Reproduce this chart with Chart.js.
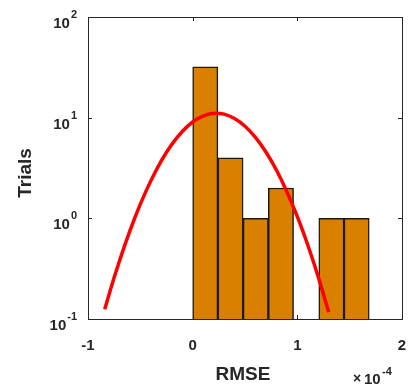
<!DOCTYPE html>
<html>
<head>
<meta charset="utf-8">
<script src="https://cdn.jsdelivr.net/npm/chart.js@4/dist/chart.umd.min.js"></script>
<style>
  html, body { margin: 0; padding: 0; background: #fff; }
  #wrap { width: 414px; height: 391px; position: relative; }
</style>
</head>
<body>
<div id="wrap"><canvas id="myChart"></canvas></div>
<script>
// histogram bins (x in units of 1e-4), bin width ~0.241
const binCenters = [0.1205, 0.3615, 0.6025, 0.8435, 1.3255, 1.5665];
const binCounts = [32, 4, 1, 2, 1, 1];

// fitted normal curve, sampled
const fitX = [-0.84, -0.75, -0.65, -0.55, -0.45, -0.35, -0.25, -0.15, -0.05, 0.05, 0.15, 0.226,
              0.30, 0.40, 0.50, 0.60, 0.70, 0.80, 0.90, 1.00, 1.10, 1.20, 1.30];
const fitY = [0.125, 0.258, 0.536, 1.03, 1.82, 2.99, 4.53, 6.34, 8.20, 9.80, 10.82, 11.07,
              10.83, 9.82, 8.23, 6.37, 4.56, 3.02, 1.84, 1.04, 0.544, 0.262, 0.117];

const xTicks = [-1, 0, 1, 2];
const yTicks = [0.1, 1, 10, 100];
const yExp = ['-1', '0', '1', '2'];

const textColor = '#262626';
const font = 'bold 15px "Liberation Sans", Arial, sans-serif';
const supFont = 'bold 11px "Liberation Sans", Arial, sans-serif';
const labelFont = 'bold 19px "Liberation Sans", Arial, sans-serif';

// box, tick marks and tick labels drawn on top of the plot area
const axesBox = {
    id: 'axesBox',
    afterDraw(chart) {
        const ctx = chart.ctx;
        const a = chart.chartArea;
        const xs = chart.scales.x, ys = chart.scales.y;
        ctx.save();
        ctx.strokeStyle = '#262626';
        ctx.lineWidth = 1;
        ctx.strokeRect(Math.round(a.left) + 0.5, Math.round(a.top) + 0.5,
                       Math.round(a.right - a.left), Math.round(a.bottom - a.top));

        ctx.beginPath();
        xTicks.forEach(t => {
            const px = Math.round(xs.getPixelForValue(t)) + 0.5;
            ctx.moveTo(px, a.bottom); ctx.lineTo(px, a.bottom - 4);
            ctx.moveTo(px, a.top); ctx.lineTo(px, a.top + 4);
        });
        yTicks.forEach(t => {
            const py = Math.round(ys.getPixelForValue(t)) + 0.5;
            ctx.moveTo(a.left, py); ctx.lineTo(a.left + 4, py);
            ctx.moveTo(a.right, py); ctx.lineTo(a.right - 4, py);
        });
        ctx.stroke();

        ctx.fillStyle = textColor;
        ctx.font = font;
        ctx.textAlign = 'center';
        ctx.textBaseline = 'middle';
        xTicks.forEach(t => {
            ctx.fillText(String(t), xs.getPixelForValue(t), a.bottom + 27);
        });

        yTicks.forEach((t, i) => {
            const py = ys.getPixelForValue(t);
            ctx.font = supFont;
            ctx.textAlign = 'right';
            ctx.textBaseline = 'alphabetic';
            const right = a.left - 11;
            const supW = ctx.measureText(yExp[i]).width;
            ctx.fillText(yExp[i], right, py + 1);
            ctx.font = font;
            ctx.fillText('10', right - supW - 1, py + 11);
        });

        // axis titles
        ctx.font = labelFont;
        ctx.textAlign = 'center';
        ctx.textBaseline = 'middle';
        ctx.fillText('RMSE', (a.left + a.right) / 2 - 2, a.bottom + 56);
        ctx.save();
        ctx.translate(26, (a.top + a.bottom) / 2 + 5);
        ctx.rotate(-Math.PI / 2);
        ctx.fillText('Trials', 0, 0);
        ctx.restore();

        // exponent multiplier
        ctx.textAlign = 'left';
        ctx.textBaseline = 'alphabetic';
        ctx.font = 'bold 14px "Liberation Sans", Arial, sans-serif';
        ctx.fillText('\u00d7', 353, 383);
        ctx.font = font;
        ctx.fillText('10', 364, 384);
        ctx.font = supFont;
        ctx.fillText('-4', 382, 375);
        ctx.restore();
    }
};

// scales take no room of their own; everything is placed by layout padding
const noSpace = (scale) => { scale.width = scale.isHorizontal() ? scale.width : 0; if (scale.isHorizontal()) scale.height = 0; };

new Chart(document.getElementById('myChart'), {
    data: {
        datasets: [{
            type: 'line',
            data: fitX.map((x, i) => ({ x: x, y: fitY[i] })),
            borderColor: '#ff0000',
            borderWidth: 3.5,
            pointRadius: 0,
            cubicInterpolationMode: 'monotone',
            fill: false,
            order: 0
        }, {
            type: 'bar',
            data: binCenters.map((x, i) => ({ x: x, y: binCounts[i] })),
            backgroundColor: '#d98000',
            borderColor: '#1a1a1a',
            borderWidth: 1.5,
            barPercentage: 1,
            categoryPercentage: 1,
            base: 0.1,
            order: 1
        }]
    },
    options: {
        responsive: true,
        maintainAspectRatio: false,
        animation: false,
        layout: { padding: { left: 88, right: 12, top: 17, bottom: 72 } },
        plugins: { legend: { display: false }, tooltip: { enabled: false } },
        scales: {
            x: {
                type: 'linear',
                min: -1,
                max: 2,
                offset: false,
                ticks: { display: false },
                grid: { display: false },
                border: { display: false },
                afterFit: noSpace
            },
            y: {
                type: 'logarithmic',
                min: 0.1,
                max: 100,
                ticks: { display: false },
                grid: { display: false },
                border: { display: false },
                afterFit: noSpace
            }
        }
    },
    plugins: [axesBox]
});
</script>
</body>
</html>
